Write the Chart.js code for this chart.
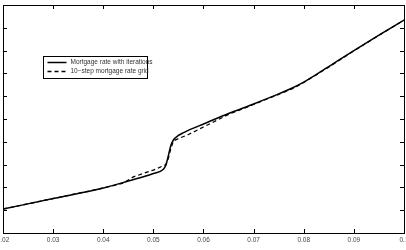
<!DOCTYPE html>
<html>
<head>
<meta charset="utf-8">
<script src="https://cdn.jsdelivr.net/npm/chart.js@4.4.0/dist/chart.umd.min.js"></script>
<style>
  html, body { margin: 0; padding: 0; background: #fff; overflow: hidden; }
  #wrap { position: absolute; left: -20px; top: 0; width: 446px; height: 250px; }
</style>
</head>
<body>
<div id="wrap"><canvas id="myChart"></canvas></div>
<script>
// 기준 x (rate)
var iterX = [0.02, 0.03, 0.04, 0.045, 0.05, 0.052, 0.0525, 0.053, 0.0535, 0.054, 0.055, 0.056, 0.058, 0.06, 0.065, 0.07, 0.075, 0.0775, 0.08, 0.0825, 0.085, 0.09, 0.095, 0.1];
var iterY = [1.05, 1.51, 1.97, 2.28, 2.61, 2.80, 2.98, 3.40, 3.85, 4.08, 4.28, 4.40, 4.60, 4.78, 5.24, 5.66, 6.10, 6.34, 6.62, 6.95, 7.30, 8.00, 8.68, 9.34];
// 10-step grid
var gridX = [0.02, 0.03, 0.04, 0.044, 0.046, 0.05, 0.0525, 0.053, 0.0535, 0.054, 0.055, 0.057, 0.06, 0.062, 0.065, 0.07, 0.075, 0.078, 0.08, 0.085, 0.09, 0.095, 0.1];
var gridY = [1.05, 1.51, 1.97, 2.19, 2.46, 2.76, 3.00, 3.29, 3.73, 4.04, 4.14, 4.32, 4.65, 4.87, 5.20, 5.64, 6.08, 6.36, 6.60, 7.28, 7.99, 8.67, 9.34];
var xTicks = [0.02, 0.03, 0.04, 0.05, 0.06, 0.07, 0.08, 0.09, 0.1];
var legendLabels = ['Mortgage rate with iterations', '10\u2212step mortgage rate grid'];

function pts(xs, ys) {
    return xs.map(function (x, i) { return { x: x, y: ys[i] }; });
}

// 테두리 + 안쪽 눈금
var frame = {
    id: 'frame',
    afterDatasetsDraw: function (chart) {
        var ctx = chart.ctx, a = chart.chartArea;
        var xs = chart.scales.x, ys = chart.scales.y;
        ctx.save();
        ctx.strokeStyle = '#000';
        ctx.lineWidth = 1;
        ctx.strokeRect(Math.round(a.left) + 0.5, Math.round(a.top) + 0.5, Math.round(a.right - a.left), Math.round(a.bottom - a.top));
        ctx.beginPath();
        xs.ticks.forEach(function (t) {
            var px = Math.round(xs.getPixelForValue(t.value)) + 0.5;
            ctx.moveTo(px, a.bottom); ctx.lineTo(px, a.bottom - 4);
            ctx.moveTo(px, a.top); ctx.lineTo(px, a.top + 4);
        });
        ys.ticks.forEach(function (t) {
            var py = Math.round(ys.getPixelForValue(t.value)) + 0.5;
            ctx.moveTo(a.left, py); ctx.lineTo(a.left + 4, py);
            ctx.moveTo(a.right, py); ctx.lineTo(a.right - 4, py);
        });
        ctx.stroke();
        ctx.restore();
    },
    afterDraw: function (chart) {
        // 범례
        var ctx = chart.ctx;
        var bx = 63.5, by = 56.5, bw = 104, bh = 22;
        ctx.save();
        ctx.fillStyle = '#fff';
        ctx.fillRect(bx, by, bw, bh);
        ctx.strokeStyle = '#000';
        ctx.lineWidth = 1;
        ctx.strokeRect(bx, by, bw, bh);
        ctx.font = '6.5px "Liberation Sans", Arial, sans-serif';
        ctx.textBaseline = 'middle';
        ctx.fillStyle = '#333';
        chart.data.datasets.forEach(function (ds, i) {
            var ly = by + 6 + i * 9;
            ctx.strokeStyle = '#000';
            ctx.lineWidth = ds.borderWidth;
            ctx.setLineDash(ds.borderDash || []);
            ctx.beginPath();
            ctx.moveTo(bx + 4, ly); ctx.lineTo(bx + 23, ly);
            ctx.stroke();
            ctx.setLineDash([]);
            ctx.fillText(legendLabels[i], bx + 27, ly);
        });
        ctx.restore();
    }
};

new Chart(document.getElementById('myChart').getContext('2d'), {
    type: 'line',
    data: {
        datasets: [{
            data: pts(iterX, iterY),
            borderColor: '#000',
            borderWidth: 1.5,
            pointRadius: 0,
            cubicInterpolationMode: 'monotone'
        }, {
            data: pts(gridX, gridY),
            borderColor: '#000',
            borderWidth: 1.3,
            borderDash: [4, 3],
            pointRadius: 0,
            tension: 0
        }]
    },
    options: {
        responsive: true,
        maintainAspectRatio: false,
        animation: false,
        layout: { padding: { left: 23, right: 22, top: 5, bottom: 0 } },
        plugins: { legend: { display: false }, tooltip: { enabled: false } },
        scales: {
            x: {
                type: 'linear',
                min: 0.02,
                max: 0.1,
                afterFit: function (s) { s.height = 17; },
                afterBuildTicks: function (s) { s.ticks = xTicks.map(function (v) { return { value: v }; }); },
                grid: { display: false, drawTicks: false },
                border: { display: false },
                ticks: {
                    color: '#444',
                    padding: 3,
                    maxRotation: 0,
                    autoSkip: false,
                    font: { size: 6.5, family: '"Liberation Sans", Arial, sans-serif' },
                    callback: function (v) { return String(+v.toFixed(2)); }
                }
            },
            y: {
                min: 0,
                max: 10,
                afterFit: function (s) { s.width = 0; },
                ticks: { stepSize: 1, display: false },
                grid: { display: false, drawTicks: false },
                border: { display: false }
            }
        }
    },
    plugins: [frame]
});
</script>
</body>
</html>
